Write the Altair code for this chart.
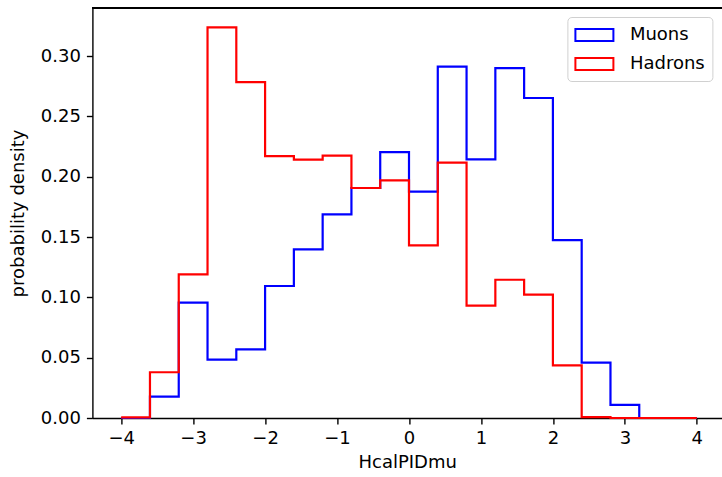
import altair as alt
import pandas as pd

edges = [-4.0, -3.6, -3.2, -2.8, -2.4, -2.0, -1.6, -1.2, -0.8, -0.4, 0.0,
         0.4, 0.8, 1.2, 1.6, 2.0, 2.4, 2.8, 3.2, 3.6, 4.0]
muons = [0.0, 0.0177, 0.0956, 0.0484, 0.0569, 0.1094, 0.1398, 0.1688, 0.1906, 0.2204,
         0.1876, 0.2912, 0.2144, 0.2900, 0.2652, 0.1475, 0.0459, 0.0108, 0.0, 0.0]
hadrons = [0.0005, 0.0379, 0.1190, 0.3238, 0.2784, 0.2171, 0.2141, 0.2174, 0.1906, 0.1970,
           0.1431, 0.2116, 0.0931, 0.1146, 0.1022, 0.0436, 0.0008, 0.0, 0.0, 0.0]
series = ["Muons", "Hadrons"]
colors = ["#0000ff", "#ff0000"]
x_ticks = [-4, -3, -2, -1, 0, 1, 2, 3, 4]
y_ticks = [0.0, 0.05, 0.10, 0.15, 0.20, 0.25, 0.30]


def step_table(name, vals):
    return pd.DataFrame({
        "x": edges,
        "y": list(vals) + [vals[-1]],
        "series": name,
    })


df_mu = step_table("Muons", muons)
df_ha = step_table("Hadrons", hadrons)

FONT = "DejaVu Sans"
W, H = 629.6, 410
xscale = alt.Scale(domain=[-4.4, 4.35], nice=False, zero=False)
yscale = alt.Scale(domain=[0, 0.3398], nice=False, zero=True)
cscale = alt.Scale(domain=series, range=colors)

legend = alt.Legend(
    title=None,
    orient="none",
    legendX=475,
    legendY=9,
    symbolType="M-1,-0.6H2.8V0.6H-1Z",
    symbolSize=400,
    symbolStrokeWidth=2,
    symbolFillColor="white",
    labelFontSize=18,
    labelFont=FONT,
    labelColor="black",
    labelOffset=33.5,
    rowPadding=8,
    padding=7,
    strokeColor="#d0d0d0",
    fillColor="white",
    cornerRadius=4,
)

xaxis = alt.Axis(values=x_ticks, format="d", title="HcalPIDmu", grid=False,
                 tickSize=6, tickWidth=1.4, tickColor="black", domainColor="black",
                 domainWidth=1.4, labelFontSize=18, labelFont=FONT, labelColor="black",
                 labelPadding=5, titleFontSize=18, titleFont=FONT,
                 titleFontWeight="normal", titleColor="black", titlePadding=6)
yaxis = alt.Axis(values=y_ticks, format=".2f", title="probability density", grid=False,
                 tickSize=6, tickWidth=1.4, tickColor="black", domainColor="black",
                 domainWidth=1.4, labelFontSize=18, labelFont=FONT, labelColor="black",
                 labelPadding=6, titleFontSize=18, titleFont=FONT,
                 titleFontWeight="normal", titleColor="black", titlePadding=13)

mu_layer = alt.Chart(df_mu).mark_line(interpolate="step-after", strokeWidth=2.2).encode(
    x=alt.X("x:Q", scale=xscale, axis=xaxis),
    y=alt.Y("y:Q", scale=yscale, axis=yaxis),
    color=alt.Color("series:N", scale=cscale, legend=legend),
)
ha_layer = alt.Chart(df_ha).mark_line(interpolate="step-after", strokeWidth=2.2).encode(
    x=alt.X("x:Q", scale=xscale, axis=xaxis),
    y=alt.Y("y:Q", scale=yscale, axis=yaxis),
    color=alt.Color("series:N", scale=cscale, legend=legend),
)
top_spine = alt.Chart(df_mu).mark_rule(color="black", strokeWidth=1.4).encode(
    x=alt.value(0), x2=alt.value(W), y=alt.value(0)
)

chart = alt.layer(mu_layer, ha_layer, top_spine).properties(
    width=W,
    height=H,
    autosize=alt.AutoSizeParams(type="none"),
    padding={"left": 92.4, "top": 8, "right": 0, "bottom": 59},
).configure_view(stroke=None)

chart.save("out.html", embed_options={"renderer": "svg", "actions": False})
